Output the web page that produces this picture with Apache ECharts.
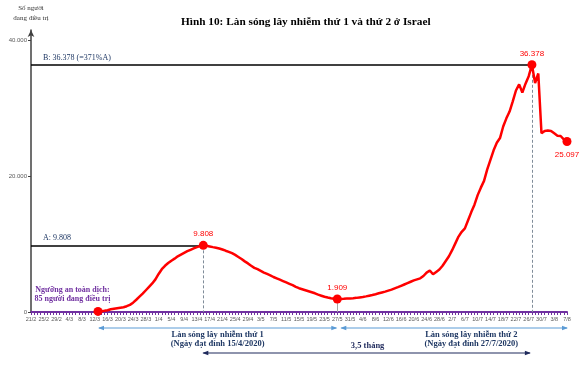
<!DOCTYPE html>
<html><head><meta charset="utf-8">
<script src="https://cdn.jsdelivr.net/npm/echarts@6/dist/echarts.min.js"></script>
<style>html,body{margin:0;padding:0;background:#fff}#c{width:586px;height:365px}</style>
</head><body><div id="c"></div>
<script>
const categories = [
'21/2','22/2','23/2','24/2','25/2','26/2','27/2','28/2','29/2',
'1/3','2/3','3/3','4/3','5/3','6/3','7/3','8/3','9/3','10/3','11/3','12/3','13/3','14/3','15/3','16/3','17/3','18/3','19/3','20/3','21/3','22/3','23/3','24/3','25/3','26/3','27/3','28/3','29/3','30/3','31/3',
'1/4','2/4','3/4','4/4','5/4','6/4','7/4','8/4','9/4','10/4','11/4','12/4','13/4','14/4','15/4','16/4','17/4','18/4','19/4','20/4','21/4','22/4','23/4','24/4','25/4','26/4','27/4','28/4','29/4','30/4',
'1/5','2/5','3/5','4/5','5/5','6/5','7/5','8/5','9/5','10/5','11/5','12/5','13/5','14/5','15/5','16/5','17/5','18/5','19/5','20/5','21/5','22/5','23/5','24/5','25/5','26/5','27/5','28/5','29/5','30/5','31/5',
'1/6','2/6','3/6','4/6','5/6','6/6','7/6','8/6','9/6','10/6','11/6','12/6','13/6','14/6','15/6','16/6','17/6','18/6','19/6','20/6','21/6','22/6','23/6','24/6','25/6','26/6','27/6','28/6','29/6','30/6',
'1/7','2/7','3/7','4/7','5/7','6/7','7/7','8/7','9/7','10/7','11/7','12/7','13/7','14/7','15/7','16/7','17/7','18/7','19/7','20/7','21/7','22/7','23/7','24/7','25/7','26/7','27/7','28/7','29/7','30/7','31/7',
'1/8','2/8','3/8','4/8','5/8','6/8','7/8'];

const tickLabels = ['21/2','25/2','29/2','4/3','8/3','12/3','16/3','20/3','24/3','28/3','1/4','5/4','9/4','13/4','17/4','21/4','25/4','29/4','3/5','7/5','11/5','15/5','19/5','23/5','27/5','31/5','4/6','8/6','12/6','16/6','20/6','24/6','28/6','2/7','6/7','10/7','14/7','18/7','22/7','26/7','30/7','3/8','7/8'];

const yTicks = [0, 20000, 40000];

// người đang điều trị (active cases), daily from 21/2 to 7/8
const activeCases = [
null,null,null,null,null,null,null,null,null,null,null,null,null,null,null,null,null,null,null,null,null,
85,120,180,260,400,480,560,640,700,850,1050,1370,1800,2250,2700,3200,3700,4200,4800,5600,6300,6800,7200,7550,7850,8200,8450,8700,8950,9150,9350,9550,9700,9808,
9750,9650,9550,9460,9350,9200,9020,8850,8650,8400,8100,7800,7450,7150,6800,6500,6300,6050,5800,5600,5400,5150,4950,4750,4550,4350,4150,3950,3700,3500,3350,3200,3050,2900,2750,2550,2400,2250,2130,2030,1960,1909,
1930,1950,1980,2000,2030,2080,2150,2220,2300,2400,2500,2620,2750,2880,3000,3150,3300,3480,3650,3850,4050,4250,4450,4650,4800,4950,5300,5800,6100,5550,5900,6250,6800,7500,8200,9100,10100,11100,11800,12300,13500,14700,15800,17200,18300,19300,21000,22400,23800,24900,25600,27300,28500,29500,31000,32600,33500,32300,33600,34700,36378,33700,35100,26300,26650,26700,26650,26300,25950,25900,25400,25097];

const keyDates  = ['13/3','15/4','27/5','27/7','7/8'];
const keyLabels = ['',    '9.808','1.909','36.378','25.097'];
const keyPos    = ['top','top','top','top','bottom'];

const peakA = 9808, peakB = 36378;
const dateA = '15/4', dateB = '27/7', dateTrough = '27/5', dateStart = '13/3', dateEnd = '7/8';

const fmt = v => String(v).replace(/\B(?=(\d{3})+(?!\d))/g, '.');

const seriesData = categories.map((c, i) => {
  const k = keyDates.indexOf(c);
  if (k < 0) return activeCases[i];
  return {
    value: activeCases[i], symbol: 'circle', symbolSize: 9,
    label: { show: !!keyLabels[k], position: keyPos[k], formatter: keyLabels[k], distance: keyPos[k] === 'bottom' ? 5 : 3 }
  };
});

const SERIF = '"Liberation Serif", "DejaVu Serif", serif';
const NAVY = '#1f3864';
const chart = echarts.init(document.getElementById('c'), null, { renderer: 'canvas' });

chart.setOption({
  animation: false,
  backgroundColor: '#fff',
  title: {
    text: 'Hình 10: Làn sóng lây nhiễm thứ 1 và thứ 2 ở Israel',
    left: 176, top: 12,
    textStyle: { fontFamily: SERIF, fontWeight: 'bold', fontSize: 11.3, color: '#000' }
  },
  grid: { left: 31, right: 19, top: 30, bottom: 53, containLabel: false },
  xAxis: {
    type: 'category', data: categories, boundaryGap: false,
    axisLine: { lineStyle: { color: '#7030a0', width: 2 } },
    axisTick: { interval: 0, length: 3, lineStyle: { color: '#7030a0', width: 1 } },
    axisLabel: {
      interval: 3, fontSize: 5.5, color: '#595959', margin: 4, fontFamily: '"Liberation Sans", Arial',
      formatter: v => tickLabels.includes(v) ? v : ''
    },
    splitLine: { show: false }
  },
  yAxis: {
    type: 'value', min: 0, max: 41500, interval: 20000,
    name: 'Số người\nđang điều trị', nameLocation: 'end', nameGap: 7,
    nameTextStyle: { fontFamily: SERIF, fontSize: 7, color: '#333', lineHeight: 10 },
    axisLine: { show: true, symbol: ['none', 'arrow'], symbolSize: [5, 7], lineStyle: { color: '#404040', width: 1.5 } },
    axisTick: { show: true, length: 3, lineStyle: { color: '#404040' } },
    axisLabel: {
      showMaxLabel: false, fontSize: 6, color: '#595959', margin: 4, fontFamily: '"Liberation Sans", Arial',
      formatter: v => yTicks.includes(v) ? fmt(v) : ''
    },
    splitLine: { show: false }
  },
  series: [{
    type: 'line', data: seriesData, z: 3,
    symbol: 'none', showSymbol: true, showAllSymbol: true,
    lineStyle: { color: '#ff0000', width: 2.5 },
    itemStyle: { color: '#ff0000' },
    label: { color: '#ff0000', fontSize: 8, fontFamily: '"Liberation Sans", Arial', distance: 3 },
    markLine: {
      silent: true, symbol: 'none', z: 1, animation: false,
      data: [
        [{ coord: [categories[0], peakA], lineStyle: { color: '#000', width: 1.5, type: 'solid' },
           label: { show: true, formatter: 'A: ' + fmt(peakA), position: 'insideStartTop', color: NAVY, fontFamily: SERIF, fontSize: 8, distance: [12, 3] } },
         { coord: [dateA, peakA] }],
        [{ coord: [categories[0], peakB], lineStyle: { color: '#000', width: 1.5, type: 'solid' },
           label: { show: true, formatter: 'B: ' + fmt(peakB) + ' (=371%A)', position: 'insideStartTop', color: NAVY, fontFamily: SERIF, fontSize: 8, distance: [12, 3] } },
         { coord: [dateB, peakB] }],
        [{ coord: [dateA, peakA], lineStyle: { color: '#7f8c99', width: 1, type: [3, 2] }, label: { show: false } },
         { coord: [dateA, 0] }],
        [{ coord: [dateB, peakB], lineStyle: { color: '#7f8c99', width: 1, type: [3, 2] }, label: { show: false } },
         { coord: [dateB, 0] }],
        [{ coord: [dateTrough, 1909], lineStyle: { color: '#a6a6a6', width: 1, type: 'solid' }, label: { show: false } },
         { coord: [dateTrough, 0] }]
      ]
    }
  }]
});

// annotations below the axis
const px = (d, v) => chart.convertToPixel({ xAxisIndex: 0, yAxisIndex: 0 }, [d, v]);
const y0 = px(categories[0], 0)[1];
function arrow(x1, x2, y, color, w) {
  const h = 5, s = 2.3;
  return [
    { type: 'line', shape: { x1: x1, y1: y, x2: x2, y2: y }, style: { stroke: color, lineWidth: w } },
    { type: 'polygon', shape: { points: [[x1 - 1, y], [x1 + h, y - s], [x1 + h, y + s]] }, style: { fill: color } },
    { type: 'polygon', shape: { points: [[x2 + 1, y], [x2 - h, y - s], [x2 - h, y + s]] }, style: { fill: color } }
  ];
}
function txt(t, x, y, font, color) {
  return { type: 'text', style: { text: t, x: x, y: y, font: font, fill: color, align: 'center', verticalAlign: 'middle', textAlign: 'center', textVerticalAlign: 'middle' } };
}
const xStart = px(dateStart, 0)[0], xTrough = px(dateTrough, 0)[0], xEnd = px(dateEnd, 0)[0];
const xA = px(dateA, 0)[0], xB = px(dateB, 0)[0];
const lab = px('5/3', 0)[0];
const wave2x = px('8/7', 0)[0];
const boldSerif = 'bold 8.5px ' + SERIF;
const g = [].concat(
  arrow(xStart + 1, xTrough - 1, y0 + 16, '#5b9bd5', 1),
  arrow(xTrough + 4, xEnd, y0 + 16, '#5b9bd5', 1),
  arrow(xA, xB - 2, y0 + 41, '#1f2a5c', 1.2),
  [
    txt('Làn sóng lây nhiễm thứ 1', (xStart + xTrough) / 2, y0 + 23, boldSerif, NAVY),
    txt('(Ngày đạt đỉnh 15/4/2020)', (xStart + xTrough) / 2, y0 + 31.5, boldSerif, NAVY),
    txt('Làn sóng lây nhiễm thứ 2', wave2x, y0 + 23, boldSerif, NAVY),
    txt('(Ngày đạt đỉnh 27/7/2020)', wave2x, y0 + 31.5, boldSerif, NAVY),
    txt('3,5 tháng', (xA + xB) / 2, y0 + 34, boldSerif, '#1f2a5c'),
    txt('Ngưỡng an toàn dịch:', lab, y0 - 22, 'bold 8px ' + SERIF, '#7030a0'),
    txt('85 người đang điều trị', lab, y0 - 13, 'bold 8px ' + SERIF, '#7030a0')
  ]
);
chart.setOption({ graphic: g });
</script></body></html>
